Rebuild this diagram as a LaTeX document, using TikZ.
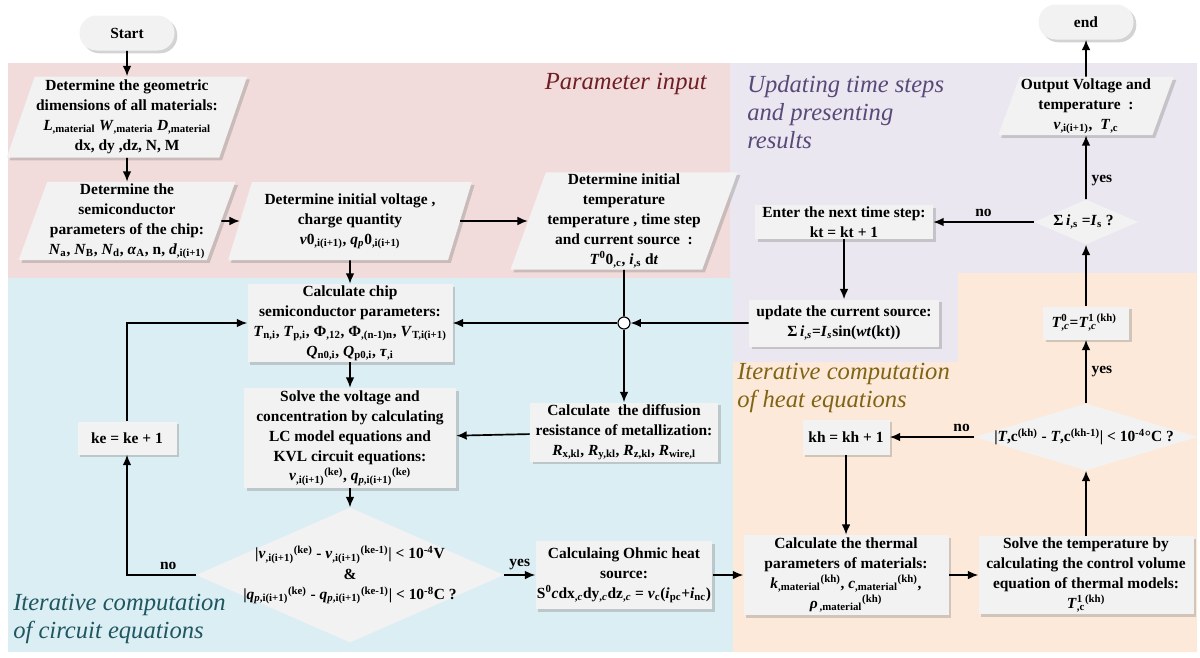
\documentclass[tikz,border=0pt]{standalone}
\usepackage{fontspec}
\setmainfont{Liberation Serif}
\usepackage{tikz}
\usetikzlibrary{
	arrows,shapes,positioning,shadows,calc
}
\usetikzlibrary{arrows.meta}
\definecolor{c1}{RGB}{242, 220, 219}
\definecolor{c2}{RGB}{235, 231, 240}
\definecolor{c3}{RGB}{219, 238, 244}
\definecolor{c4}{RGB}{253, 233, 217}
\definecolor{t1}{RGB}{110, 30, 36}
\definecolor{t2}{RGB}{88, 74, 120}
\definecolor{t3}{RGB}{31, 86, 96}
\definecolor{t4}{RGB}{128, 100, 22}
\definecolor{boxgray}{RGB}{242, 242, 242}
\newcommand{\ssub}[1]{\textsubscript{#1}}
\newcommand{\ssup}[1]{\textsuperscript{#1}}
\tikzset{
	process/.style={
		rectangle, fill=boxgray, align=center, inner sep=1pt,
		font=\bfseries\fontsize{11}{14.2}\selectfont,
		drop shadow={shadow xshift=0.7mm, shadow yshift=-0.7mm, opacity=0.35}
	},
	%
	ioblock/.style={
		trapezium, trapezium left angle=70, trapezium right angle=110,
		trapezium stretches=true, fill=boxgray, align=center, inner sep=1pt,
		font=\bfseries\fontsize{11}{14.2}\selectfont,
		drop shadow={shadow xshift=0.7mm, shadow yshift=-0.7mm, opacity=0.35}
	},
	%
	decision/.style={
		diamond, aspect=2.3, fill=boxgray, align=center,
		inner xsep=-14pt, inner ysep=-4pt,
		font=\bfseries\fontsize{11}{14.5}\selectfont
	},
	%
	terminal/.style={
		rectangle, rounded corners=0.43cm, minimum width=2.375cm, minimum height=0.875cm,
		fill=boxgray, font=\bfseries\fontsize{11}{14.2}\selectfont,
		drop shadow={shadow xshift=0.7mm, shadow yshift=-0.7mm, opacity=0.35}
	},
	%
	junction/.style={
		circle, draw, thick, fill=white, minimum size=0.3cm, inner sep=0pt
	},
	%
	regiontitle/.style={
		align=left, inner sep=0pt, font=\itshape\fontsize{17.5}{20}\selectfont
	},
	%
	answer/.style={
		font=\bfseries\fontsize{11}{12}\selectfont
	}
}

\begin{document}
\begin{tikzpicture}[on grid, >={Latex[length=2.6mm, width=2.2mm]}]
    \useasboundingbox (0,0) rectangle (30,-16.425);
    % coloured stages
    \fill[c1] (0.2,-1.575) rectangle (18.25,-6.95);
    \fill[c2] (18.25,-1.575) -- (29.925,-1.575) -- (29.925,-6.825) -- (23.95,-6.825) -- (23.95,-9.05) -- (18.325,-9.05) -- (18.325,-6.95) -- (18.25,-6.95) -- cycle;
    \fill[c3] (0.2,-6.95) rectangle (18.325,-16.3);
    \fill[c4] (18.325,-9.05) -- (23.95,-9.05) -- (23.95,-6.825) -- (29.925,-6.825) -- (29.925,-16.3) -- (18.325,-16.3) -- cycle;
    \node(tpar)[regiontitle, text=t1, anchor=east] at (17.675,-2.1) {Parameter input};
    \node(tupd)[regiontitle, text=t2, anchor=west] at (18.675,-2.8) {Updating time steps\\ and presenting\\ results};
    \node(theat)[regiontitle, text=t4, anchor=west] at (18.425,-9.7) {Iterative computation\\ of heat equations};
    \node(tcir)[regiontitle, text=t3, anchor=west] at (0.325,-15.475) {Iterative computation\\ of circuit equations};

    % parameter input
    \node(start)[terminal] at (3.175,-0.825) {Start};
    \node(geom)[ioblock, below=2.1cm of start, minimum width=5.825cm, minimum height=2.025cm]{
    Determine the geometric\\ dimensions of all materials:\\
    \textit{L}\ssub{,material} \textit{W}\ssub{,materia} \textit{D}\ssub{,material}\\
    dx, dy ,dz, N, M
    };
    \node(semi)[ioblock, below=2.6cm of geom, minimum width=5.425cm, minimum height=1.9cm]{
    Determine the\\ semiconductor\\ parameters of the chip:\\
    \textit{N}\ssub{a}, \textit{N}\ssub{B}, \textit{N}\ssub{d}, \textit{α}\ssub{A}, n, \textit{d}\ssub{,i(i+1)}
    };
    \node(volt)[ioblock, right=5.575cm of semi, minimum width=6.1cm, minimum height=1.95cm]{
    Determine initial voltage ,\\ charge quantity\\
    \textit{v}0\ssub{,i(i+1)}, \textit{q\ssub{p}}0\ssub{,i(i+1)}
    };
    \node(temp)[ioblock, right=6.85cm of volt, minimum width=5.6cm, minimum height=2.425cm]{
    Determine initial\\ temperature\\ temperature , time step\\ and current source \ :\\
    \textit{T}\ssup{0}0\ssub{,c}, \textit{i}\ssub{,s} d\textit{t}
    };
    \draw[->, very thick] (start) -- (geom);
    \draw[->, very thick] (geom) -- (semi);
    \draw[->, very thick] (semi) -- (volt);
    \draw[->, very thick] (volt) -- (temp);

    % circuit equations
    \node(chip)[process, below=2.55cm of volt, minimum width=5.125cm, minimum height=1.925cm]{
    Calculate chip\\ semiconductor parameters:\\
    \textit{T}\ssub{n,i}, \textit{T}\ssub{p,i}, Φ\ssub{,12}, Φ\ssub{,(n-1)n}, \textit{V}\ssub{T,i(i+1)}\\
    \textit{Q}\ssub{n0,i}, \textit{Q}\ssub{p0,i}, \textit{τ}\ssub{,i}
    };
    \node(junc)[junction, below=2.55cm of temp]{};
    \node(diffu)[process, below=2.725cm of junc, minimum width=4.7cm, minimum height=1.475cm]{
    Calculate \ the diffusion\\ resistance of metallization:\\
    \textit{R}\ssub{x,kl}, \textit{R}\ssub{y,kl}, \textit{R}\ssub{z,kl}, \textit{R}\ssub{wire,l}
    };
    \node(solve)[process, below=2.875cm of chip, minimum width=5.3cm, minimum height=2.5cm]{
    Solve the voltage and\\ concentration by calculating\\ LC model equations and\\ KVL circuit equations:\\
    \textit{v}\ssub{,i(i+1)}\ssup{(ke)}, \textit{q}\ssub{\textit{p},i(i+1)}\ssup{(ke)}
    };
    \node(dia1)[decision, below=3.425cm of solve, minimum width=7.7cm, minimum height=3.375cm]{
    |\textit{v}\ssub{,i(i+1)}\ssup{(ke)} - \textit{v}\ssub{,i(i+1)}\ssup{(ke-1)}| < 10\ssup{-4}V\\
    \&\\
    |\textit{q}\ssub{\textit{p},i(i+1)}\ssup{(ke)} - \textit{q}\ssub{\textit{p},i(i+1)}\ssup{(ke-1)}| < 10\ssup{-8}C ?
    };
    \node(ke)[process, left=5.575cm of solve, minimum width=2.475cm, minimum height=0.825cm]{ke = ke + 1};
    \node(ohm)[process, right=6.85cm of dia1, minimum width=4.375cm, minimum height=1.7cm]{
    Calculaing Ohmic heat\\ source:\\
    S\ssup{0}\textit{c}dx\ssub{,\textit{c}}dy\ssub{,\textit{c}}dz\ssub{,\textit{c}} = \textit{v}\ssub{c}(\textit{i}\ssub{pc}+\textit{i}\ssub{nc})
    };
    \draw[->, very thick] (volt) -- (chip);
    \draw[very thick] (temp.south) -- (junc);
    \draw[->, very thick] (junc) -- (chip);
    \draw[->, very thick] (junc) -- (diffu);
    \draw[->, very thick] (chip) -- (solve);
    \draw[->, very thick] (diffu) -- (solve);
    \draw[->, very thick] (solve) -- (dia1);
    \draw[->, very thick] (dia1.west) -| node [answer, pos=0.2, above] {no} (ke.south);
    \draw[->, very thick] (ke.north) |- (chip.west);
    \draw[->, very thick] (dia1.east) -- node [answer, midway, above] {yes} (ohm.west);

    % heat equations
    \node(therm)[process, right=5.55cm of ohm, minimum width=5.125cm, minimum height=2cm]{
    Calculate the thermal\\ parameters of materials:\\
    \textit{k}\ssub{,material}\ssup{(kh)}, \textit{c}\ssub{,material}\ssup{(kh)},\\
    \textit{ρ}\ssub{\,,material}\ssup{(kh)}
    };
    \node(soltemp)[process, right=6cm of therm, minimum width=5.375cm, minimum height=1.9cm]{
    Solve the temperature by\\ calculating the control volume\\ equation of thermal models:\\
    \textit{T}\rlap{\ssup{1}}\ssub{,c}\ssup{(kh)}
    };
    \node(dia2)[decision, above=3.45cm of soltemp, aspect=3.3, minimum width=5.575cm, minimum height=1.675cm]{
    |\textit{T},c\ssup{(kh)} - \textit{T},c\ssup{(kh-1)}| < 10\ssup{-4}°C ?
    };
    \node(kh)[process, left=6cm of dia2, minimum width=2.175cm, minimum height=0.875cm]{kh = kh + 1};
    \node(tzero)[process, above=2.85cm of dia2, minimum width=2.15cm, minimum height=0.825cm]{
    \textit{T}\rlap{\ssup{0}}\ssub{,\textit{c}}=\textit{T}\rlap{\ssup{1}}\ssub{,\textit{c}}\ssup{(kh)}
    };
    \draw[->, very thick] (ohm) -- (therm);
    \draw[->, very thick] (therm) -- (soltemp);
    \draw[->, very thick] (soltemp) -- (dia2);
    \draw[->, very thick] (dia2.west) -- node [answer, pos=0.15, above] {no} (kh);
    \draw[->, very thick] (kh) -- (therm);
    \draw[->, very thick] (dia2.north) -- node [answer, midway, right] {yes} (tzero);

    % time steps and results
    \node(dia3)[decision, above=2.525cm of tzero, minimum width=2.6cm, minimum height=1.125cm]{
    Σ\,\textit{i}\ssub{,s} =\textit{I}\ssub{s} ?
    };
    \node(kt)[process, left=6.05cm of dia3, minimum width=4.45cm, minimum height=0.825cm]{
    Enter the next time step:\\ kt = kt + 1
    };
    \node(upd)[process, below=2.525cm of kt, minimum width=4.75cm, minimum height=1.175cm]{
    update the current source:\\
    Σ\,\textit{i}\ssub{,\textit{s}}=\textit{I}\ssub{\textit{s}}sin(\textit{wt}(kt))
    };
    \node(outp)[ioblock, above=2.9cm of dia3, minimum width=4.275cm, minimum height=1.45cm]{
    Output Voltage and\\ temperature \ :\\
    \textit{v}\ssub{,i(i+1)}, \ \textit{T}\ssub{,c}
    };
    \node(stop)[terminal, above=2.1cm of outp]{end};
    \draw[->, very thick] (tzero) -- (dia3);
    \draw[->, very thick] (dia3) -- node [answer, midway, above] {no} (kt);
    \draw[->, very thick] (kt) -- (upd);
    \draw[->, very thick] (upd) -- (junc);
    \draw[->, very thick] (dia3.north) -- node [answer, pos=0.3, right] {yes} (outp);
    \draw[->, very thick] (outp) -- (stop);
\end{tikzpicture}
\end{document}
